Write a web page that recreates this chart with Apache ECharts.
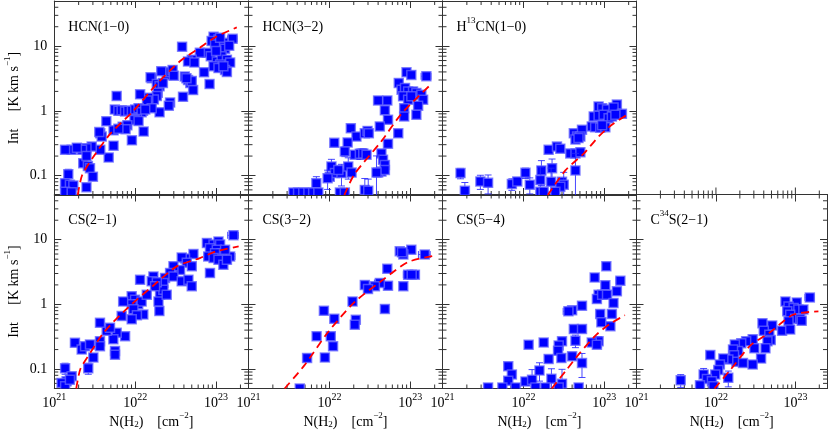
<!DOCTYPE html>
<html>
<head>
<meta charset="utf-8">
<script src="https://cdn.jsdelivr.net/npm/echarts@6/dist/echarts.min.js"></script>
<style>
  html, body { margin: 0; padding: 0; background: #fff; }
  #chart { width: 830px; height: 431px; }
</style>
</head>
<body>
<div id="chart"></div>
<script>
// measured points: [N(H2), Int, dN, dInt]  (errors only where the bar is visible)
const hcn10 = [
  [1.6e23, 13, 2.2e22, 0], [9.3e22, 14], [1.07e23, 12.7], [1.23e23, 11.3], [8.8e22, 12], [9.7e22, 10.6],
  [1.12e23, 13.5], [1.29e23, 9.1], [1.45e23, 10.2], [7.7e22, 7.9], [8.6e22, 7.0], [1.02e23, 5.8],
  [1.17e23, 7.0], [1.36e23, 6.2], [1.49e23, 5.6, 2e22, 0], [1.12e23, 5.2], [9.3e22, 4.9], [1.07e23, 4.6],
  [7.1e22, 3.95], [1.29e23, 4.3], [1.36e23, 4.0], [8.3e22, 2.6], [1.23e23, 4.9], [1.0e23, 8.4], [3.8e22, 9.8],
  [6.3e22, 7.9], [5.0e22, 6.2], [4.5e22, 5.8], [5.4e22, 5.6], [4.1e22, 3.4], [4.5e22, 3.0], [4.8e22, 2.7],
  [5.2e22, 2.1], [5.0e22, 2.9], [4.3e22, 3.2], [3.9e22, 1.65], [2.45e22, 3.6], [2.7e22, 4.0], [2.9e22, 4.3],
  [3.0e22, 3.5], [2.1e22, 4.1], [1.6e22, 3.2], [1.55e22, 3.3], [1.85e22, 2.6], [2.0e22, 2.4], [2.2e22, 2.7],
  [1.9e22, 1.9], [1.85e22, 1.7], [1.7e22, 1.5], [1.45e22, 1.6], [1.4e22, 1.45], [2.7e22, 1.35], [2.6e22, 1.2],
  [2.0e22, 0.95], [1.15e22, 1.8], [1.6e22, 1.1], [1.25e22, 1.0], [5.6e21, 1.05], [6.2e21, 1.0], [6.8e21, 1.02],
  [7.5e21, 0.98], [8.2e21, 1.0], [9.1e21, 1.0], [1.0e22, 1.05], [1.1e22, 1.1], [1.2e22, 0.95], [1.33e22, 1.05],
  [5.9e21, 1.7], [1.05e22, 0.75], [9.8e21, 0.72], [1.1e22, 0.7], [9.1e21, 0.35], [1.27e22, 0.48], [7e21, 0.57],
  [8e21, 0.6], [7.6e21, 0.52], [5.4e21, 0.5], [6.2e21, 0.53], [4.4e21, 0.69], [3.7e21, 0.45], [3.85e21, 0.40],
  [3.6e21, 0.47], [5.4e21, 0.29], [4.7e21, 0.19], [3.7e21, 0.25], [2.9e21, 0.28], [2.5e21, 0.265], [2.2e21, 0.25],
  [1.64e21, 0.25, 2e20, 0], [1.36e21, 0.25], [1.9e21, 0.27], [2.28e21, 0.155], [2.6e21, 0.14], [2.76e21, 0.13],
  [2.5e21, 0.2], [3.0e21, 0.096], [1.49e21, 0.105, 0, 0.02], [1.36e21, 0.076], [1.56e21, 0.072], [1.72e21, 0.07],
  [2.5e21, 0.066], [1.36e21, 0.056], [1.64e21, 0.055]
];
const hcn32 = [
  [8.97e22, 3.95], [1.03e23, 3.6], [1.58e23, 3.43, 2.2e22, 0], [7.2e22, 2.7], [7.8e22, 2.13], [8.6e22, 2.26],
  [9.4e22, 2.0], [1.08e23, 2.0], [1.19e23, 1.89], [1.37e23, 1.78], [8.15e22, 1.68], [9.4e22, 1.49], [1.03e23, 1.68],
  [1.44e23, 1.49], [1.25e23, 1.2], [1.19e23, 0.87], [4.0e22, 1.45, 4e21, 0], [5.2e22, 1.45], [4.85e22, 1.02],
  [5.3e22, 0.73], [8.4e22, 1.1], [8.4e22, 0.82], [4.2e22, 0.575], [7.1e22, 0.45, 0, 0.05], [5.3e22, 0.31, 0, 0.04],
  [1.84e22, 0.54], [2.16e22, 0.40], [2.74e22, 0.45], [2.96e22, 0.49], [3.07e22, 0.45], [1.15e22, 0.32, 0, 0.03],
  [1.68e22, 0.325, 0, 0.03], [1.55e22, 0.236, 0, 0.04], [2.06e22, 0.21], [2.38e22, 0.217, 0, 0.04],
  [2.62e22, 0.22, 0, 0.04], [2.88e22, 0.21], [4.4e22, 0.22], [4.6e22, 0.175], [4.85e22, 0.146], [4.4e22, 0.115],
  [4.0e22, 0.111], [4.85e22, 0.122], [1.06e22, 0.138, 0, 0.04], [1.01e22, 0.096], [1.17e22, 0.109],
  [1.41e22, 0.109, 0, 0.04], [1.71e22, 0.138, 0, 0.05], [1.88e22, 0.111], [1.29e22, 0.122], [6.9e21, 0.076, 0, 0.02],
  [9.5e21, 0.091, 0, 0.03], [3.6e21, 0.0545], [4.1e21, 0.0545], [4.75e21, 0.0545], [5.5e21, 0.0545], [6.3e21, 0.0545],
  [7.3e21, 0.0545], [1.35e22, 0.0545], [1.55e22, 0.0545], [2.74e22, 0.06, 0, 0.03], [3.02e22, 0.058, 0, 0.03],
  [3.82e22, 0.111, 0, 0.09]
];
const h13cn10 = [
  [8.5e22, 1.17], [9.4e22, 1.1], [1.08e23, 1.05], [1.43e23, 1.25, 1.5e22, 0], [1.3e23, 1.13], [1.65e23, 0.9, 1.5e22, 0],
  [7.4e22, 0.82], [8.5e22, 0.84], [9.8e22, 0.87], [1.13e23, 0.77], [1.24e23, 0.82], [1.37e23, 0.87], [7.0e22, 0.575],
  [7.7e22, 0.56], [8.9e22, 0.55], [1.03e23, 0.56], [9.4e22, 0.6], [4.2e22, 0.45], [4.6e22, 0.40], [5.3e22, 0.51],
  [5.06e22, 0.40], [4.4e22, 0.36], [4.8e22, 0.38], [2.05e22, 0.25], [2.6e22, 0.28], [2.86e22, 0.26], [3.8e22, 0.22],
  [4.4e22, 0.22], [5.06e22, 0.23], [4.4e22, 0.12, 0, 0.1], [1.67e22, 0.12, 0, 0.05], [2.26e22, 0.13, 0, 0.05],
  [1.62e22, 0.085, 0, 0.05], [2.2e22, 0.08, 0, 0.05], [3.0e22, 0.08], [3.15e22, 0.072, 0, 0.04], [2.86e22, 0.067],
  [1.62e22, 0.056], [1.78e22, 0.056], [2.48e22, 0.056], [1.67e21, 0.109, 0, 0.02], [1.89e21, 0.058, 0, 0.02],
  [2.94e21, 0.081, 0, 0.02], [3.66e21, 0.077, 0, 0.025], [7.2e21, 0.074, 0, 0.015], [8.4e21, 0.081],
  [1.06e22, 0.11, 0, 0.02], [1.2e22, 0.072, 0, 0.02]
];
const cs21 = [
  [1.64e23, 11.7, 2.5e22, 0], [1.49e23, 5.5, 2.2e22, 0], [7.7e22, 8.9], [9.3e22, 8.4], [1.07e23, 9.4], [1.12e23, 8.4],
  [8.4e22, 7.4], [1.02e23, 7.0], [1.17e23, 6.2], [9.7e22, 6.2], [8.0e22, 5.5], [9.3e22, 5.2], [1.07e23, 4.9],
  [1.29e23, 7.0], [1.23e23, 4.1], [8.4e22, 3.05], [1.36e23, 4.9], [5.25e22, 6.0], [4.13e22, 5.1], [3.76e22, 5.3],
  [4.34e22, 4.4], [5.0e22, 3.9], [3.59e22, 3.4], [2.97e22, 3.9], [2.7e22, 3.05], [2.34e22, 2.55], [2.97e22, 2.7],
  [3.76e22, 2.27], [4.55e22, 2.4], [5.0e22, 1.9], [2.03e22, 1.41], [2.23e22, 2.14], [2.23e22, 1.69], [1.68e22, 2.7],
  [1.6e22, 2.27], [1.85e22, 2.2], [1.76e22, 1.9], [1.94e22, 1.11], [1.99e22, 0.79], [2.45e22, 1.41], [1.15e22, 2.4],
  [9.05e21, 1.33], [9.95e21, 1.18], [1.09e22, 1.0], [1.2e22, 1.11], [1.39e22, 1.41], [9.05e21, 1.0], [9.5e21, 0.84],
  [1.26e22, 0.7], [1.05e22, 0.68], [9.05e21, 0.59], [7.1e21, 1.11], [6.8e21, 0.66], [7.5e21, 0.32], [5.9e21, 0.365],
  [5.37e21, 0.29], [5.63e21, 0.19], [5.63e21, 0.167], [4.44e21, 0.39], [3.67e21, 0.52], [4.88e21, 0.435],
  [3.67e21, 0.27], [3.67e21, 0.225], [1.8e21, 0.255, 2e20, 0], [2.18e21, 0.2], [2.4e21, 0.225], [2.76e21, 0.24],
  [3.04e21, 0.151], [2.63e21, 0.103, 0, 0.02], [1.36e21, 0.103, 0, 0.02], [1.64e21, 0.077], [1.42e21, 0.065],
  [1.23e21, 0.061], [1.36e21, 0.054], [1.56e21, 0.068]
];
const cs32 = [
  [1.51e23, 5.9, 2.5e22, 0], [1.03e23, 7.0], [7.4e22, 6.6, 6e21, 0], [8.2e22, 5.9], [7.9e22, 6.4],
  [9.4e22, 2.88, 1.2e22, 0], [1.14e23, 2.88], [1.04e23, 2.88], [8.2e22, 1.9], [5.2e22, 3.56], [5.3e22, 1.94],
  [4.2e22, 2.14, 6e21, 0], [3.65e22, 1.9], [2.74e22, 2.0], [3.0e22, 1.73], [1.93e22, 1.11], [4.85e22, 0.85],
  [8.55e21, 0.8], [1.15e22, 0.6], [2.12e22, 0.58], [2.06e22, 0.485], [6.95e21, 0.32], [1.04e22, 0.32],
  [1.11e22, 0.225], [5.3e21, 0.148], [8.8e21, 0.151], [4.3e21, 0.05, 0, 0.005]
];
const cs54 = [
  [1.06e23, 3.9], [7.6e22, 2.6], [1.58e23, 2.32, 1.8e22, 0], [1.03e23, 1.97], [1.43e23, 1.59, 1.5e22, 0],
  [8.5e22, 1.41], [8.1e22, 1.21], [9.4e22, 1.41], [1.08e23, 1.41], [1.3e23, 1.05], [5.3e22, 0.95], [4.0e22, 0.81],
  [3.6e22, 0.78, 5e21, 0], [8.9e22, 0.71], [1.24e23, 0.71], [9.2e22, 0.53, 8e21, 0], [1.19e23, 0.457],
  [4.2e22, 0.416], [5.3e22, 0.416], [4.4e22, 0.274, 0, 0.06], [3.0e22, 0.268], [2.73e22, 0.232], [2.68e22, 0.192],
  [2.95e22, 0.148], [2.05e22, 0.143], [4.0e22, 0.157], [5.3e22, 0.124, 0, 0.05], [1.16e22, 0.238], [1.78e22, 0.258],
  [8.5e22, 0.268, 0, 0.05], [7.0e22, 0.258], [8.1e22, 0.238], [6.5e21, 0.11], [7.2e21, 0.082], [6.5e21, 0.066],
  [1.06e22, 0.064], [1.28e22, 0.068, 0, 0.03], [1.58e22, 0.095, 0, 0.03], [2.22e22, 0.071, 0, 0.03],
  [3.0e22, 0.059, 0, 0.04], [3.66e21, 0.052], [5.5e21, 0.052], [8e21, 0.052], [1.41e22, 0.052], [1.87e22, 0.052],
  [4.82e22, 0.052], [2.73e22, 0.052]
];
const c34s21 = [
  [1.52e23, 1.28, 2e22, 0], [7.5e22, 1.11, 8e21, 0], [1.04e23, 1.07], [8.2e22, 0.93], [9.5e22, 0.88], [1.09e23, 0.83],
  [1.26e23, 0.83], [7.9e22, 0.78], [8.6e22, 0.69], [9.95e22, 0.6], [1.15e23, 0.6], [1.2e23, 0.56, 1.5e22, 0],
  [8.2e22, 0.55], [6.8e22, 0.39], [8.6e22, 0.41], [3.85e22, 0.51], [5.1e22, 0.47], [4.0e22, 0.39], [4.7e22, 0.34],
  [4.9e22, 0.28], [4.45e22, 0.27], [4.2e22, 0.21], [3.7e22, 0.145], [2.9e22, 0.29], [3.05e22, 0.21], [2.4e22, 0.27],
  [2.08e22, 0.25], [1.73e22, 0.24], [1.9e22, 0.19], [1.64e22, 0.2], [1.69e22, 0.163], [1.81e22, 0.13],
  [2.19e22, 0.124], [2.9e22, 0.117], [1.43e22, 0.14], [1.24e22, 0.145], [1.12e22, 0.117], [1.07e22, 0.097],
  [9.8e21, 0.082], [8.5e21, 0.165], [7.0e21, 0.082, 0, 0.02], [7.7e21, 0.07], [8.9e21, 0.065],
  [1.43e22, 0.073, 0, 0.02], [6.3e21, 0.056], [3.6e21, 0.067, 0, 0.015], [9.3e21, 0.054]
];

// fitted curves (red dashed)
const hcn10Fit = [[1.95e21, 0.05], [2.2e21, 0.1], [3e21, 0.19], [4.9e21, 0.44], [9.5e21, 1.0], [1.85e22, 2.6], [3.6e22, 5.9], [6.3e22, 9.5], [1e23, 14], [1.8e23, 19.5]];
const hcn32Fit = [[1.53e22, 0.05], [2.04e22, 0.105], [4.4e22, 0.34], [7.7e22, 0.89], [1.7e23, 2.4]];
const h13cn10Fit = [[2.0e22, 0.05], [3.3e22, 0.12], [5.6e22, 0.22], [8.5e22, 0.4], [1.24e23, 0.61], [2e23, 0.9]];
const cs21Fit = [[1.87e21, 0.05], [2.1e21, 0.1], [2.8e21, 0.18], [4.1e21, 0.37], [7.9e21, 0.86], [1.68e22, 1.96], [3.3e22, 3.9], [6.3e22, 5.2], [1e23, 6.6], [1.9e23, 7.9]];
const cs32Fit = [[2.8e21, 0.05], [4.9e21, 0.114], [9.6e21, 0.37], [2.04e22, 1.08], [4.8e22, 2.5], [9.3e22, 4.5], [1.9e23, 5.6]];
const cs54Fit = [[2.24e22, 0.05], [3.3e22, 0.092], [5e22, 0.178], [8e22, 0.34], [1.18e23, 0.5], [1.8e23, 0.68]];
const c34s21Fit = [[9.6e21, 0.05], [1.55e22, 0.1], [2.7e22, 0.23], [4.8e22, 0.37], [9.3e22, 0.69], [1.95e23, 0.78]];

// axis ticks and labels
const xTickExp = [21, 22, 23];
const yTickLabels = ['0.1', '1', '10'];
const xMinorTicks = [2e21, 3e21, 4e21, 5e21, 6e21, 7e21, 8e21, 9e21, 2e22, 3e22, 4e22, 5e22, 6e22, 7e22, 8e22, 9e22, 2e23];
const xMajorTicks = [1e22, 1e23];
const yMinorTicks = [0.06, 0.07, 0.08, 0.09, 0.2, 0.3, 0.4, 0.5, 0.6, 0.7, 0.8, 0.9, 2, 3, 4, 5, 6, 7, 8, 9, 20, 30, 40];

const XMIN = 1e21, XMAX = 2.5e23, YMIN = 0.05, YMAX = 50;
const FONT = 'Liberation Serif';
const colLeft = [54.3, 248.5, 442.5, 636.5];
const rowTop = [1, 194.5];
const PW = 194, PH = 194;
const frame = { color: '#333', width: 1 };

const panels = [
  { title: '{t|HCN(1−0)}', pts: hcn10, fit: hcn10Fit, col: 0, row: 0 },
  { title: '{t|HCN(3−2)}', pts: hcn32, fit: hcn32Fit, col: 1, row: 0 },
  { title: '{t|H}{sup|13}{t|CN(1−0)}', pts: h13cn10, fit: h13cn10Fit, col: 2, row: 0 },
  { title: '{t|CS(2−1)}', pts: cs21, fit: cs21Fit, col: 0, row: 1 },
  { title: '{t|CS(3−2)}', pts: cs32, fit: cs32Fit, col: 1, row: 1 },
  { title: '{t|CS(5−4)}', pts: cs54, fit: cs54Fit, col: 2, row: 1 },
  { title: '{t|C}{sup|34}{t|S(2−1)}', pts: c34s21, fit: c34s21Fit, col: 3, row: 1, upTicks: true },
];

const textRich = {
  t: { fontFamily: FONT, fontSize: 14, fontWeight: 'normal', color: '#000', lineHeight: 18, verticalAlign: 'bottom' },
  sup: { fontFamily: FONT, fontSize: 9, fontWeight: 'normal', color: '#000', lineHeight: 9, verticalAlign: 'top' },
  sub: { fontFamily: FONT, fontSize: 9, fontWeight: 'normal', color: '#000', lineHeight: 11, verticalAlign: 'bottom' },
};
const tickRich = {
  b: { fontFamily: FONT, fontSize: 14, color: '#000', lineHeight: 18, verticalAlign: 'bottom' },
  s: { fontFamily: FONT, fontSize: 10, color: '#000', lineHeight: 10, verticalAlign: 'top' },
};

const xLabel = v => {
  const e = Math.log10(v);
  const r = Math.round(e);
  if (Math.abs(e - r) > 1e-6 || !xTickExp.includes(r)) return '';
  return '{b|10}{s|' + r + '}';
};
const yLabel = v => {
  const e = Math.log10(v);
  const r = Math.round(e);
  if (Math.abs(e - r) > 1e-6) return '';
  return yTickLabels[r + 1] || '';
};

const seg = (x1, y1, x2, y2, stroke, w) => ({
  type: 'line', shape: { x1, y1, x2, y2 }, style: { stroke, lineWidth: w || 1 },
});

const grid = [], xAxis = [], yAxis = [], series = [], title = [];

panels.forEach((p, i) => {
  const left = colLeft[p.col], top = rowTop[p.row];
  grid.push({ left, top, width: PW, height: PH });
  const showX = p.row === 1, showY = p.col === 0;
  const common = {
    gridIndex: i, type: 'log', logBase: 10,
    axisLine: { show: true, onZero: false, lineStyle: frame },
    axisTick: { show: true, inside: true, length: 7, lineStyle: frame },
    splitLine: { show: false },
    minorTick: { show: false },
  };
  xAxis.push(Object.assign({}, common, {
    min: XMIN, max: XMAX, position: 'bottom',
    axisLabel: { show: showX, margin: 4, formatter: xLabel, rich: tickRich },
    name: showX ? '{t|N(H}{sub|2}{t|)    [cm}{sup|−2}{t|]}' : '',
    nameLocation: 'middle', nameGap: 17,
    nameTextStyle: { rich: textRich },
  }));
  xAxis.push(Object.assign({}, common, {
    min: XMIN, max: XMAX, position: 'top', axisLabel: { show: false },
  }));
  yAxis.push(Object.assign({}, common, {
    min: YMIN, max: YMAX, position: 'left',
    axisLabel: { show: showY, margin: 7, formatter: yLabel, fontFamily: FONT, fontSize: 14, color: '#000' },
    name: showY ? '{t|Int}{t|     [K km s}{sup|−1}{t|]}' : '',
    nameLocation: 'middle', nameRotate: 90, nameGap: 33,
    nameTextStyle: { rich: textRich },
  }));
  yAxis.push(Object.assign({}, common, {
    min: YMIN, max: YMAX, position: 'right', axisLabel: { show: false },
  }));

  title.push({
    text: p.title, left: left + 14, top: top + 15,
    textStyle: { fontWeight: 'normal', rich: textRich }, padding: 0,
  });

  // minor ticks on all four sides
  const ticks = [];
  xMinorTicks.forEach(v => ticks.push({ axis: 'x', v, len: 4 }));
  yMinorTicks.forEach(v => ticks.push({ axis: 'y', v, len: 4 }));
  if (p.upTicks) {
    xMinorTicks.forEach(v => ticks.push({ axis: 'xu', v, len: 4 }));
    xMajorTicks.forEach(v => ticks.push({ axis: 'xu', v, len: 7 }));
  }
  series.push({
    type: 'custom', xAxisIndex: 2 * i, yAxisIndex: 2 * i, silent: true, clip: false, z: 3,
    data: ticks.map(t => (t.axis === 'y' ? [1e22, t.v] : [t.v, 1])),
    encode: { x: 0, y: 1 },
    renderItem: (params, api) => {
      const cs = params.coordSys;
      const t = ticks[params.dataIndex];
      if (t.axis === 'x') {
        const px = api.coord([t.v, 1])[0];
        return { type: 'group', children: [
          seg(px, cs.y + cs.height, px, cs.y + cs.height - t.len, frame.color),
          seg(px, cs.y, px, cs.y + t.len, frame.color),
        ] };
      }
      if (t.axis === 'xu') {
        const px = api.coord([t.v, 1])[0];
        return seg(px, cs.y, px, cs.y - t.len, frame.color);
      }
      const py = api.coord([1e22, t.v])[1];
      return { type: 'group', children: [
        seg(cs.x, py, cs.x + t.len, py, frame.color),
        seg(cs.x + cs.width, py, cs.x + cs.width - t.len, py, frame.color),
      ] };
    },
  });

  // data points with error bars
  const pts = p.pts;
  series.push({
    type: 'custom', xAxisIndex: 2 * i, yAxisIndex: 2 * i, clip: true, z: 4,
    data: pts.map(d => [d[0], d[1]]),
    encode: { x: 0, y: 1 },
    renderItem: (params, api) => {
      const d = pts[params.dataIndex];
      const c = api.coord([d[0], d[1]]);
      const dN = d[2] || 0, dI = d[3] || 0;
      const bar = 'rgba(40,40,255,0.85)';
      const children = [];
      if (dN) {
        const a = api.coord([d[0] - dN, d[1]])[0];
        const b = api.coord([d[0] + dN, d[1]])[0];
        children.push(seg(a, c[1], b, c[1], bar), seg(a, c[1] - 3.5, a, c[1] + 3.5, bar), seg(b, c[1] - 3.5, b, c[1] + 3.5, bar));
      }
      if (dI) {
        const lo = api.coord([d[0], Math.max(d[1] - dI, 1e-4)])[1];
        const hi = api.coord([d[0], d[1] + dI])[1];
        children.push(seg(c[0], lo, c[0], hi, bar), seg(c[0] - 3.5, lo, c[0] + 3.5, lo, bar), seg(c[0] - 3.5, hi, c[0] + 3.5, hi, bar));
      }
      children.push({
        type: 'rect', shape: { x: c[0] - 4.5, y: c[1] - 4.5, width: 9, height: 9 },
        style: { fill: '#0000ff', stroke: 'rgba(100,100,255,0.75)', lineWidth: 1.5 },
      });
      return { type: 'group', children };
    },
  });

  // fitted curve
  series.push({
    type: 'line', xAxisIndex: 2 * i, yAxisIndex: 2 * i, data: p.fit,
    symbol: 'none', smooth: 0.25, clip: true, z: 6, silent: true,
    lineStyle: { color: '#ff0000', width: 1.8, type: [8, 5] },
  });
});

const chart = echarts.init(document.getElementById('chart'), null, { renderer: 'canvas' });
chart.setOption({
  animation: false,
  backgroundColor: '#fff',
  textStyle: { fontFamily: FONT },
  title,
  grid,
  xAxis,
  yAxis,
  series,
});
</script>
</body>
</html>
